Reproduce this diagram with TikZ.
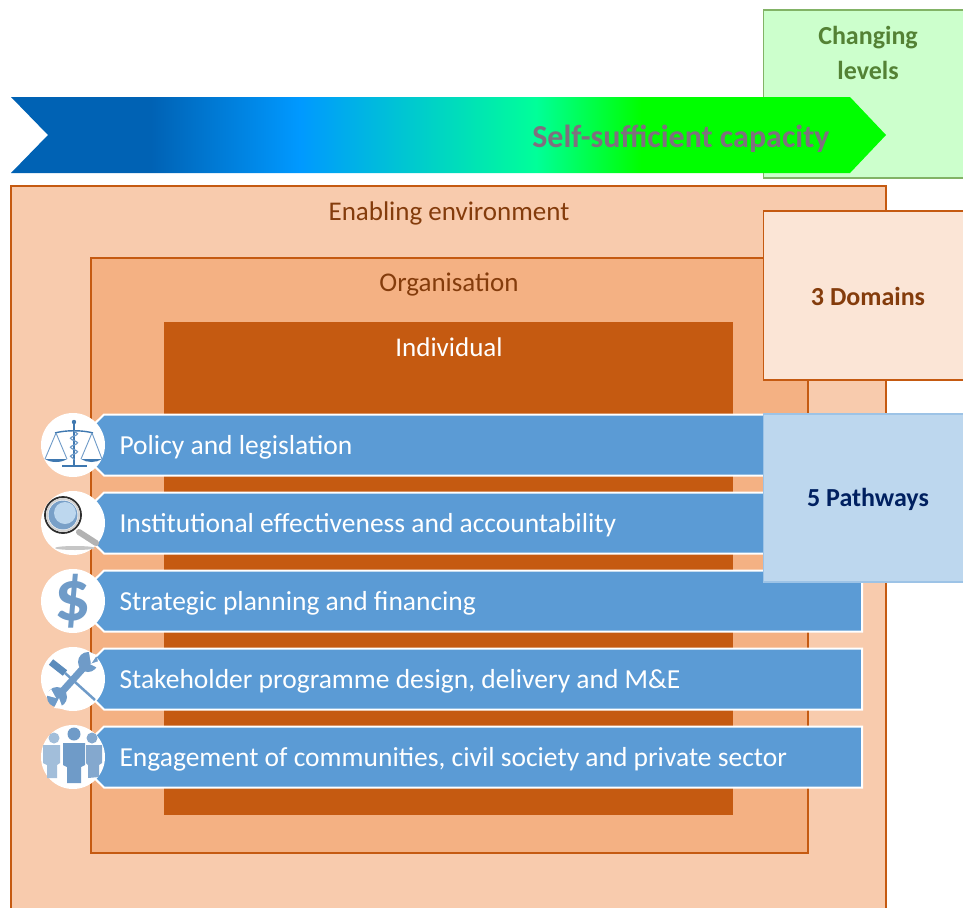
\documentclass[tikz,border=0pt]{standalone}
\usepackage{fontspec}
\setmainfont{Carlito}
\usetikzlibrary{decorations.pathmorphing}
\definecolor{envfill}{HTML}{F8CBAD}
\definecolor{orgfill}{HTML}{F4B183}
\definecolor{rust}{HTML}{C55A11}
\definecolor{brownt}{HTML}{843C0C}
\definecolor{ribbon}{HTML}{5B9BD5}
\definecolor{iconblue}{HTML}{6F9BC8}
\definecolor{icondark}{HTML}{3F78B0}
\definecolor{iconpale}{HTML}{A2BEDA}
\definecolor{iconmid}{HTML}{84A8CE}
\definecolor{gradA}{HTML}{0062B4}
\definecolor{gradB}{HTML}{0099FF}
\definecolor{gradC}{HTML}{00FF99}
\definecolor{gradD}{HTML}{00FF00}
\definecolor{lvlfill}{HTML}{CCFFCC}
\definecolor{lvlline}{HTML}{82B366}
\definecolor{lvltext}{HTML}{548235}
\definecolor{domfill}{HTML}{FBE5D6}
\definecolor{pathfill}{HTML}{BDD7EE}
\definecolor{pathline}{HTML}{9DC3E6}
\definecolor{pathtext}{HTML}{002060}
\definecolor{captext}{HTML}{7F6F7F}
\pgfdeclarehorizontalshading{capgrad}{100bp}{
 color(0bp)=(gradA); color(33bp)=(gradA); color(41.5bp)=(gradB);
 color(55bp)=(gradC); color(61bp)=(gradD); color(100bp)=(gradD)}
\tikzset{
  x=1pt,y=-1pt,
  envbox/.style={draw=rust,line width=1.5pt,fill=envfill},
  orgbox/.style={draw=rust,line width=1.5pt,fill=orgfill},
  indbox/.style={fill=rust},
  ribbonshape/.style={draw=white,line width=2pt,fill=ribbon},
  disc/.style={circle,fill=white,minimum size=64pt,inner sep=0pt},
  domlabel/.style={font=\fontsize{27}{32}\selectfont,text=brownt,anchor=base},
  ribbontext/.style={font=\fontsize{27.5}{32}\selectfont,text=white,anchor=base west},
  sidetext/.style={font=\fontsize{26}{35}\selectfont\bfseries,align=center,anchor=center},
  iconline/.style={draw=icondark,line width=1.4pt},
}
\begin{document}
\begin{tikzpicture}
\useasboundingbox (0,0) rectangle (963,907);
\clip (0,0) rectangle (963,907);
\fill[white] (0,0) rectangle (963,907);
% levels
\draw[draw=lvlline,line width=1.5pt,fill=lvlfill] (763.5,10) rectangle (975,178);
\node[sidetext,text=lvltext] (levels) at (868,53) {Changing\\levels};
% arrow
\path[shading=capgrad] (11,97) -- (850,97) -- (886,135) -- (850,173) -- (11,173) -- (48,135) -- cycle;
\node[font=\fontsize{32}{36}\selectfont\bfseries,text=captext,anchor=base east] (cap) at (833,147) {Self-sufficient capacity};
% nested domains
\draw[envbox] (11,186) rectangle (886,930);
\node[domlabel] (env) at (449,220) {Enabling environment};
\draw[orgbox] (91,258) rectangle (808,853);
\node[domlabel] (org) at (449,291) {Organisation};
\fill[indbox] (164,322) rectangle (733,815);
\node[domlabel,text=white] (ind) at (449,356) {Individual};
% ribbons
\foreach \yy/\tx/\nm in {445/Policy and legislation/ra,
  523/Institutional effectiveness and accountability/rb,
  601/Strategic planning and financing/rc,
  679/{Stakeholder programme design, delivery and M\&E}/rd,
  757/{Engagement of communities, civil society and private sector}/re}{
  \draw[ribbonshape] (104,\yy-30.5) -- (862,\yy-30.5) -- (862,\yy+30.5) -- (104,\yy+30.5) -- (73,\yy) -- cycle;
  \node[ribbontext] (\nm) at (116,\yy+9) {\tx};
  \node[disc] (d\nm) at (73,\yy) {};
}
% side boxes
\draw[draw=rust,line width=1.5pt,fill=domfill] (763.5,211) rectangle (975,380);
\node[sidetext,text=brownt] (dom) at (868,296) {3 Domains};
\draw[draw=pathline,line width=1.5pt,fill=pathfill] (763.5,414) rectangle (975,582);
\node[sidetext,text=pathtext] (pth) at (868,499) {5 Pathways};
% scales icon
\begin{scope}[shift={(73,445)}]
  \draw[iconline,line width=1.6pt] (1,-23) -- (1,20);
  \fill[icondark] (1,-23) circle (2.2);
  \draw[iconline] (-18,-12) .. controls (-8,-15) and (10,-15) .. (20,-12);
  \draw[iconblue,line width=.9pt] (-17,-12) -- (-28,14) (-17,-12) -- (-6,14) (19,-12) -- (8,14) (19,-12) -- (29,14);
  \fill[icondark] (-28,14) .. controls (-22,18) and (-12,18) .. (-6,14) -- cycle;
  \fill[icondark] (8,14) .. controls (14,18) and (23,18) .. (29,14) -- cycle;
  \draw[iconblue,line width=1.2pt,decorate,decoration={snake,amplitude=3.5pt,segment length=9pt}] (1,-14) -- (1,15);
  \draw[icondark,line width=1.6pt] (-11,21) -- (14,21);
\end{scope}
% magnifier icon
\begin{scope}[shift={(73,523)}]
  \fill[gray!45] (2,25) ellipse (20 and 2);
  \draw[gray!60,line width=6pt,line cap=round] (6,9) -- (23,20);
  \draw[gray!35!black,line width=1.8pt] (-10,-8) circle (18);
  \draw[gray!35,line width=1.8pt,fill=white] (-10,-8) circle (16);
  \fill[icondark!70!white] (-10,-8) circle (14.5);
  \fill[pathfill] (-8,-10) circle (11);
\end{scope}
% dollar icon
\node[font=\fontsize{72}{72}\selectfont\bfseries,text=iconblue] (dollar) at (73,601) {\$};
% tools icon
\begin{scope}[shift={(73,679)}]
  \draw[icondark!85!white,line width=7pt] (-22,-17) -- (-8,-6);
  \draw[iconblue,line width=2.5pt] (-8,-6) -- (22,21);
  \draw[iconblue,line width=7pt] (13,-14) -- (-13,15);
  \fill[iconblue] (15,-17) circle (10);
  \fill[iconblue] (-16,18) circle (10);
  \fill[white] (16,-27) -- (24,-24) -- (18,-15) -- cycle;
  \fill[white] (-28,16) -- (-22,10) -- (-17,19) -- cycle;
  \fill[white] (-19,29) -- (-10,30) -- (-14,19) -- cycle;
  \fill[white] (26,-18) -- (27,-10) -- (17,-15) -- cycle;
\end{scope}
% people icon
\begin{scope}[shift={(73,757)}]
  \fill[iconpale] (-19,-19) circle (5.5);
  \fill[iconpale] (-30,-12) -- (-13,-12) -- (-13,6) -- (-16,8) -- (-16,21) -- (-26,21) -- (-26,8) -- (-30,6) -- cycle;
  \fill[iconmid] (19,-19) circle (5.5);
  \fill[iconmid] (13,-12) -- (29,-12) -- (29,6) -- (26,8) -- (26,20) -- (15,21) -- (15,8) -- (13,6) -- cycle;
  \fill[iconblue] (1,-23) circle (6.5);
  \fill[iconblue] (-10,-14) -- (12,-14) -- (12,8) -- (8,10) -- (8,26) -- (-6,26) -- (-6,10) -- (-10,8) -- cycle;
\end{scope}
\end{tikzpicture}
\end{document}
